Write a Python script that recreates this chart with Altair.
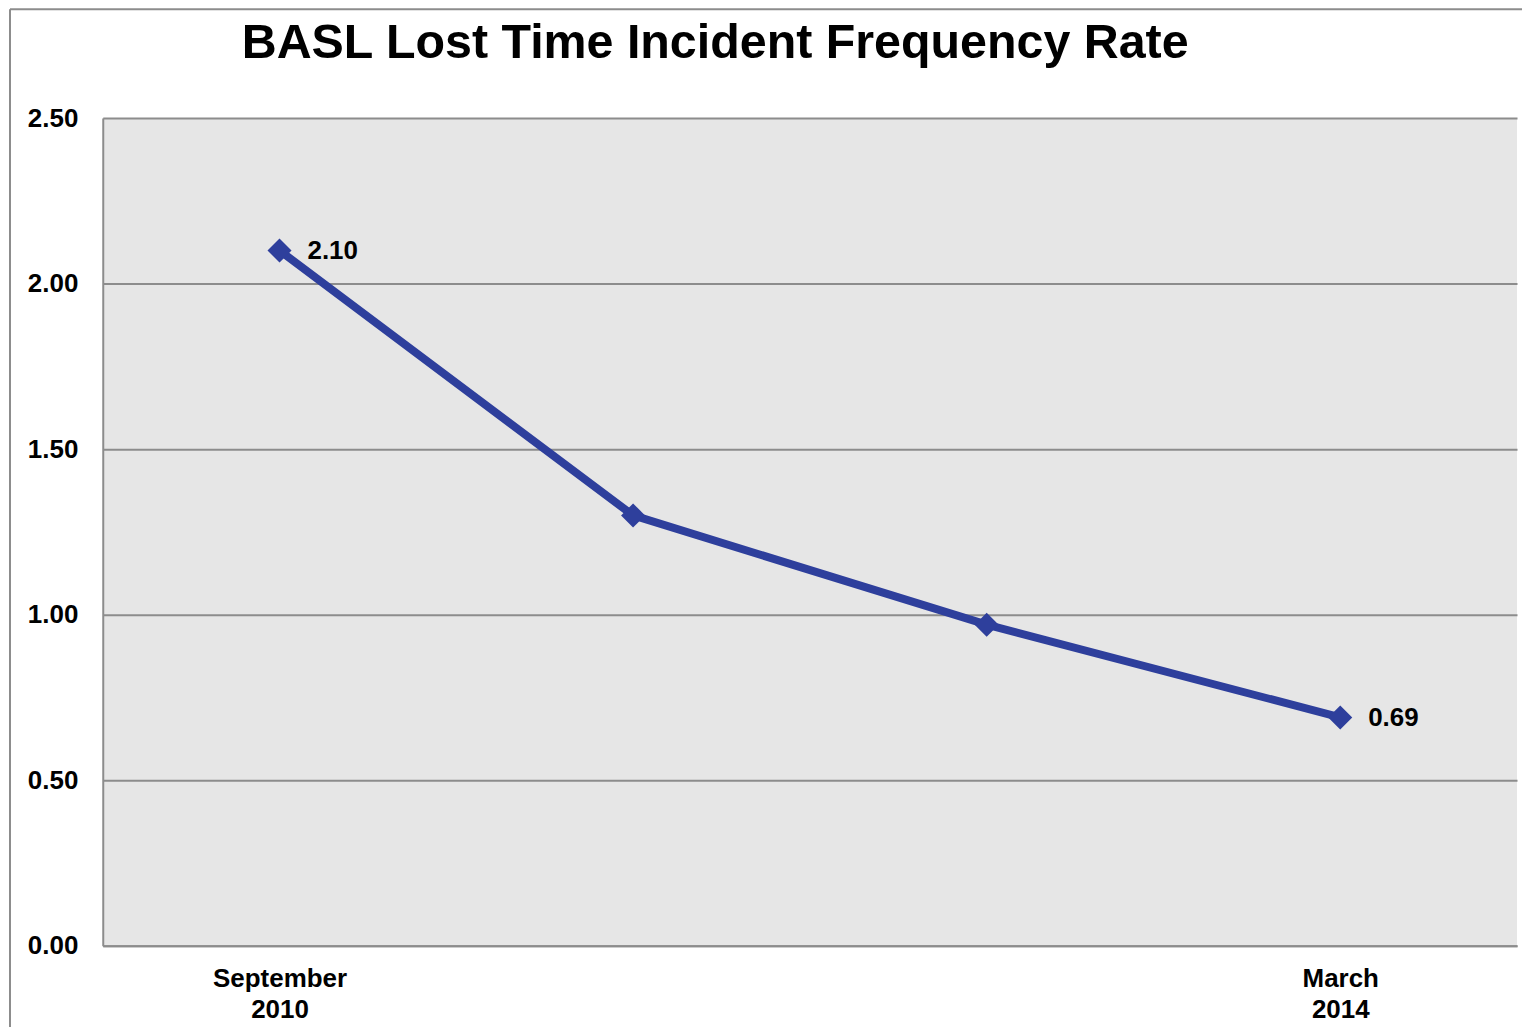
import altair as alt
import pandas as pd

title_text = "BASL Lost Time Incident Frequency Rate"
periods = ["September 2010", "Period 2", "Period 3", "March 2014"]
tick_labels = [["September", "2010"], [""], [""], ["March", "2014"]]
rates = [2.10, 1.30, 0.97, 0.69]
point_labels = ["2.10", "", "", "0.69"]
y_ticks = [0, 0.5, 1.0, 1.5, 2.0, 2.5]

df = pd.DataFrame({"period": periods, "rate": rates, "label": point_labels})

FONT = "Liberation Sans"
BLUE = "#2E3F9C"
GRID = "#8C8C8C"

label_expr = " : ".join(
    f"datum.value == '{p}' ? {lab!r}" for p, lab in zip(periods, tick_labels)
) + " : ''"

x = alt.X(
    "period:N",
    sort=periods,
    title=None,
    scale=alt.Scale(type="point", padding=0.5),
    axis=alt.Axis(
        labelExpr=label_expr,
        labelAngle=0,
        labelFont=FONT,
        labelFontSize=26,
        labelFontWeight="bold",
        labelColor="black",
        labelPadding=20,
        labelLineHeight=31,
        ticks=False,
        domainColor=GRID,
        domainWidth=2,
        grid=False,
    ),
)
y = alt.Y(
    "rate:Q",
    title=None,
    scale=alt.Scale(domain=[0, 2.5], nice=False),
    axis=alt.Axis(
        values=y_ticks,
        format=".2f",
        labelFont=FONT,
        labelFontSize=26,
        labelFontWeight="bold",
        labelColor="black",
        labelPadding=25,
        ticks=False,
        domainColor=GRID,
        domainWidth=2,
        gridColor=GRID,
        gridWidth=2,
    ),
)

line = alt.Chart(df).mark_line(color=BLUE, strokeWidth=8).encode(x=x, y=y)
pts = alt.Chart(df).mark_point(
    shape="diamond", filled=True, color=BLUE, size=580, opacity=1
).encode(x=x, y=y)
txt = alt.Chart(df).mark_text(
    align="left", baseline="middle", dx=28, dy=1, font=FONT, fontSize=26,
    fontWeight="bold", color="black"
).encode(x=x, y=y, text="label:N")

single = alt.Data(values=[{}])
left_border = alt.Chart(single).mark_rule(color=GRID, strokeWidth=2).encode(
    x=alt.value(-93), y=alt.value(-109), y2=alt.value(940)
)
top_border = alt.Chart(single).mark_rule(color=GRID, strokeWidth=2).encode(
    x=alt.value(-93), x2=alt.value(1440), y=alt.value(-109)
)
title = alt.Chart(single).mark_text(
    font=FONT, fontSize=48.5, fontWeight="bold", color="black",
    align="center", baseline="alphabetic"
).encode(x=alt.value(614), y=alt.value(-60), text=alt.value(title_text))

chart = (
    alt.layer(left_border, top_border, line, pts, txt, title)
    .properties(
        width=1418,
        height=830,
        padding={"left": 95, "top": 109, "right": 5, "bottom": 80},
        autosize=alt.AutoSizeParams(type="none"),
        background="white",
    )
    .configure_view(fill="#E6E6E6", stroke=None)
)

chart.save("out.html", embed_options={"renderer": "svg", "actions": False})
